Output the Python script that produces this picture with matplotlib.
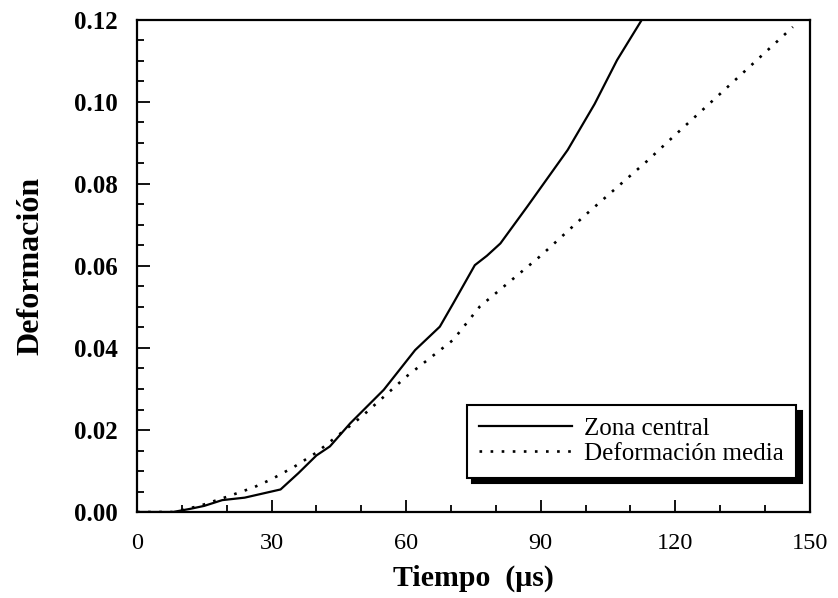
import matplotlib
matplotlib.use("Agg")
import matplotlib.pyplot as plt
from matplotlib.ticker import MultipleLocator, FormatStrFormatter

plt.rcParams['font.family'] = ['Liberation Serif', 'DejaVu Serif']

# Data
t_central = [0, 8, 12, 15, 19, 24, 28, 32, 36, 40, 43, 47.5, 55, 62, 67.5, 70.5,
             75.3, 78, 81, 87, 96, 102, 107, 112.5]
def_central = [0, 0, 0.0008, 0.0015, 0.0029, 0.0035, 0.0045, 0.0055, 0.0095, 0.0138,
               0.016, 0.0216, 0.0298, 0.0395, 0.0452, 0.0509, 0.0602, 0.0625, 0.0655,
               0.0745, 0.0883, 0.0995, 0.1102, 0.12]

t_media = [0, 8, 14, 20, 26, 30, 35, 40, 50, 60, 70.5, 76.4, 90, 100, 113.6, 120,
           130, 146.2]
def_media = [0, 0, 0.0015, 0.0037, 0.006, 0.008, 0.011, 0.0145, 0.0232, 0.033, 0.042,
             0.0501, 0.0625, 0.0725, 0.0855, 0.092, 0.102, 0.1183]

labels = ['Zona central', 'Deformación media']
x_label = 'Tiempo  (μs)'
y_label = 'Deformación'

fig = plt.figure(figsize=(8.38, 5.98), dpi=100)
ax = fig.add_axes([0.1635, 0.1438, 0.803, 0.8228])

ax.plot(t_central, def_central, color='black', lw=1.6, label=labels[0])
ax.plot(t_media, def_media, color='black', lw=1.9, linestyle=(0, (1, 3.2)),
        label=labels[1])

ax.set_xlim(0, 150)
ax.set_ylim(0, 0.12)
ax.xaxis.set_major_locator(MultipleLocator(30))
ax.xaxis.set_minor_locator(MultipleLocator(10))
ax.yaxis.set_major_locator(MultipleLocator(0.02))
ax.yaxis.set_minor_locator(MultipleLocator(0.005))
ax.yaxis.set_major_formatter(FormatStrFormatter('%.2f'))

ax.tick_params(which='both', direction='in', top=False, right=False, width=1.3)
ax.tick_params(which='major', length=9)
ax.tick_params(which='minor', length=5)
ax.tick_params(axis='y', pad=14, labelsize=18)
ax.tick_params(axis='x', pad=15, labelsize=17.5)
for lab in ax.get_yticklabels():
    lab.set_fontweight('bold')
for s in ax.spines.values():
    s.set_linewidth(1.6)

ax.set_xlabel(x_label, fontsize=21.5, fontweight='bold', labelpad=8)
ax.set_ylabel(y_label, fontsize=23, fontweight='bold', labelpad=20)

leg = ax.legend(loc='lower right', bbox_to_anchor=(0.98, 0.07), borderaxespad=0,
                fontsize=18, handlelength=3.7, handletextpad=0.5,
                fancybox=False, edgecolor='black', framealpha=1,
                labelspacing=0.1, borderpad=0.5,
                shadow={'ox': 4, 'oy': -4, 'color': 'black', 'alpha': 1})
leg.get_frame().set_linewidth(1.5)

fig.savefig('out.png', dpi=100)
